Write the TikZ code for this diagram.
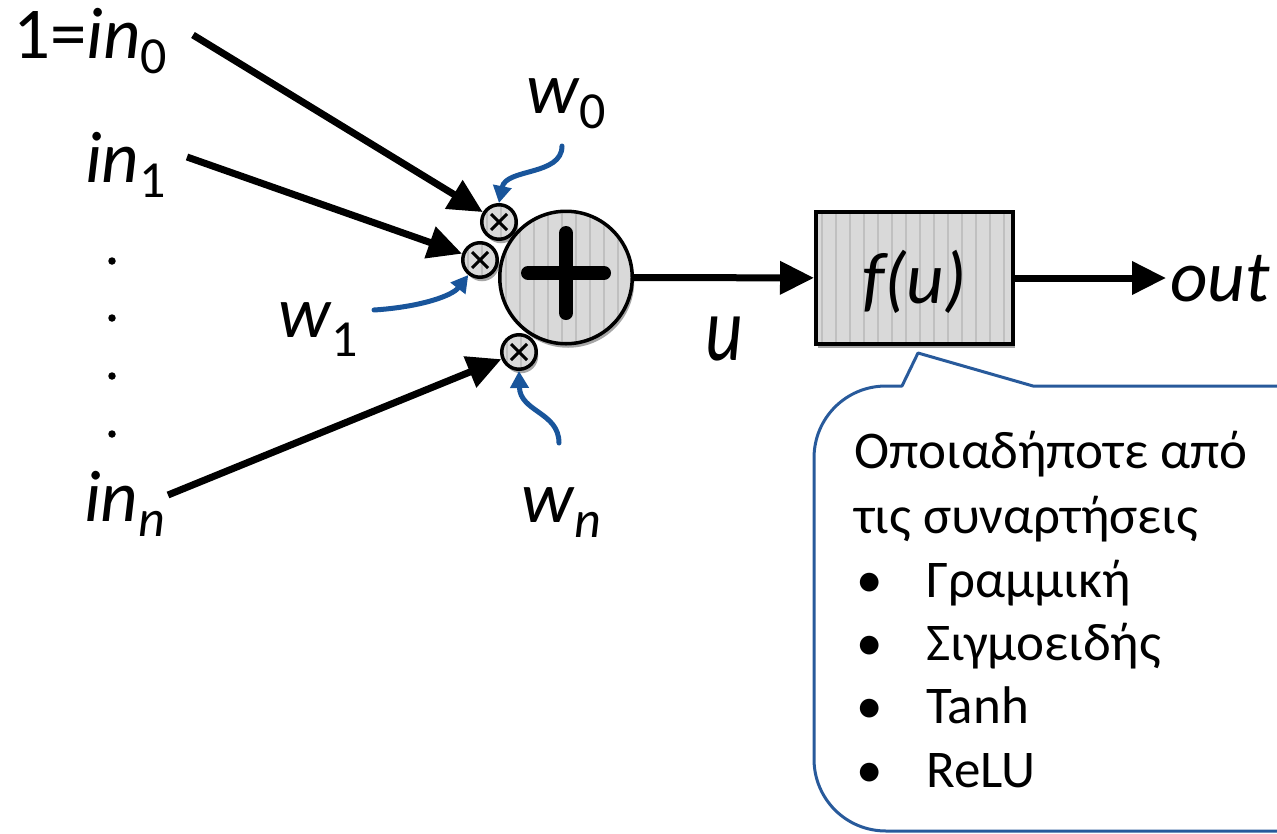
\documentclass[tikz,border=0pt]{standalone}
\usepackage{fontspec}
\setmainfont{Carlito}
\usetikzlibrary{arrows.meta,shadows,calc}
\definecolor{wblue}{RGB}{25,85,155}
\definecolor{cblue}{RGB}{40,90,155}
\definecolor{boxgray}{RGB}{217,217,217}
\definecolor{stripegray}{RGB}{192,192,192}
\newcommand{\bigf}{\fontsize{73}{80}\selectfont}
\newcommand{\lowsub}[2][15pt]{\raisebox{-#1}{\fontsize{52}{52}\selectfont #2}}
\newcommand{\callf}{\fontsize{53}{60}\selectfont}
\tikzset{
  stripes/.style={path picture={
    \foreach \k in {0,...,16}{
      \draw[stripegray,line width=1.6pt]
        ([xshift=\k*14pt+6pt]path picture bounding box.south west) --
        ([xshift=\k*14pt+6pt]path picture bounding box.north west);}}},
  multstripes/.style={path picture={
    \foreach \k in {0,1,2}{
      \draw[stripegray,line width=1.6pt]
        ([xshift=\k*14pt+5pt]path picture bounding box.south west) --
        ([xshift=\k*14pt+5pt]path picture bounding box.north west);}
    \draw[line width=3pt]
      ([shift={(-8pt,-8pt)}]path picture bounding box.center) --
      ([shift={(8pt,8pt)}]path picture bounding box.center);
    \draw[line width=3pt]
      ([shift={(-8pt,8pt)}]path picture bounding box.center) --
      ([shift={(8pt,-8pt)}]path picture bounding box.center);}},
  myshadow/.style={drop shadow={shadow xshift=2pt,shadow yshift=-4pt,opacity=0.35,fill=black}},
  lbl/.style={inner sep=0pt,anchor=base west,font=\bigf},
  ctext/.style={inner sep=0pt,anchor=base west,font=\callf},
  sumnode/.style={circle,draw,line width=3.5pt,fill=boxgray,minimum size=132.5pt,inner sep=0pt,stripes,myshadow},
  mulnode/.style={circle,draw,line width=3.5pt,fill=boxgray,minimum size=34.5pt,inner sep=0pt,multstripes,myshadow},
  fbox/.style={rectangle,draw,line width=4pt,fill=boxgray,minimum width=197pt,minimum height=132pt,
    inner sep=0pt,stripes,myshadow,text height=60pt,text depth=10pt,font=\bigf},
  inarrow/.style={line width=7pt,-{Triangle[length=34pt,width=32pt]}},
  warrow/.style={wblue,line width=5pt,line cap=round,-{Triangle[length=17pt,width=18pt]}},
  callout/.style={cblue,line width=3pt,fill=white,line join=round},
  dotnode/.style={circle,fill=black,inner sep=0pt,minimum size=7.5pt}
}
\begin{document}
\begin{tikzpicture}[x=1pt,y=-1pt]
\useasboundingbox (0,0) rectangle (1277,833);
\clip (0,0) rectangle (1277,833);

% callout
\draw[callout] (918,353) -- (1033,386) -- (1380,386) -- (1380,831) -- (886,831)
  .. controls (846,831) and (814,799) .. (814,759) -- (814,458)
  .. controls (814,418) and (846,386) .. (886,386) -- (902,386) -- cycle;

% main nodes
\node[sumnode] (sum) at (566,277.5) {};
\draw[line width=14pt,line cap=round] (528,273) -- (604,273);
\draw[line width=14pt,line cap=round] (566,233) -- (566,313);
\node[mulnode] (m0) at (499,222) {};
\node[mulnode] (m1) at (480,260) {};
\node[mulnode] (mn) at (519,352) {};
\node[fbox] (f) at (914.5,278) {\itshape f(u)};

% input labels
\node[lbl] (in0) at (13,58) {1=\textit{in}\lowsub{0}};
\node[lbl] (in1) at (85,182) {\textit{in}\lowsub{1}};
\node[lbl] (inn) at (84,521) {\textit{in}\lowsub{\textit{n}}};
\node[dotnode] (d1) at (112,261) {};
\node[dotnode] (d2) at (112,318) {};
\node[dotnode] (d3) at (112,376) {};
\node[dotnode] (d4) at (112,434) {};

% weight labels
\node[lbl] (w0) at (526,113) {\textit{w}\lowsub{0}};
\node[lbl] (w1) at (278,337) {\textit{w}\lowsub[19pt]{1}};
\node[lbl] (wn) at (521,522) {\textit{w}\lowsub{\textit{n}}};

% u and out
\node[lbl] (ulab) at (705,360) {\scalebox{1}[1.25]{\textit{u}}};
\node[lbl] (out) at (1170,301) {\textit{out}};

% input arrows
\coordinate (s0) at (193,35);
\coordinate (s1) at (187,157);
\coordinate (sn) at (168,495);
\draw[inarrow] (s0) -- (m0);
\draw[inarrow] (s1) -- (m1);
\draw[inarrow] (sn) -- (mn);
\draw[inarrow] (sum) -- (f);
\coordinate (outtip) at (1166,278);
\draw[inarrow] (f) -- (outtip);

% weight arrows
\coordinate (w0s) at (562,146);
\coordinate (w1s) at (374,310);
\coordinate (wns) at (559,443);
\draw[warrow] (w0s) .. controls (562,176) and (506,168) .. (m0.north);
\draw[warrow] (w1s) .. controls (420,307) and (452,296) .. (m1.232);
\draw[warrow] (wns) .. controls (559,412) and (520,412) .. (mn.south);

% callout text
\node[ctext] (c1) at (854,468) {Οποιαδήποτε από};
\node[ctext] (c2) at (854,533) {τις συναρτήσεις};
\node[ctext] (b1) at (856,597) {•};
\node[ctext] (b2) at (856,660) {•};
\node[ctext] (b3) at (856,723) {•};
\node[ctext] (b4) at (856,787) {•};
\node[ctext] (t1) at (926,597) {Γραμμική};
\node[ctext] (t2) at (926,660) {Σιγμοειδής};
\node[ctext] (t3) at (926,723) {Tanh};
\node[ctext] (t4) at (926,787) {ReLU};
\end{tikzpicture}
\end{document}
